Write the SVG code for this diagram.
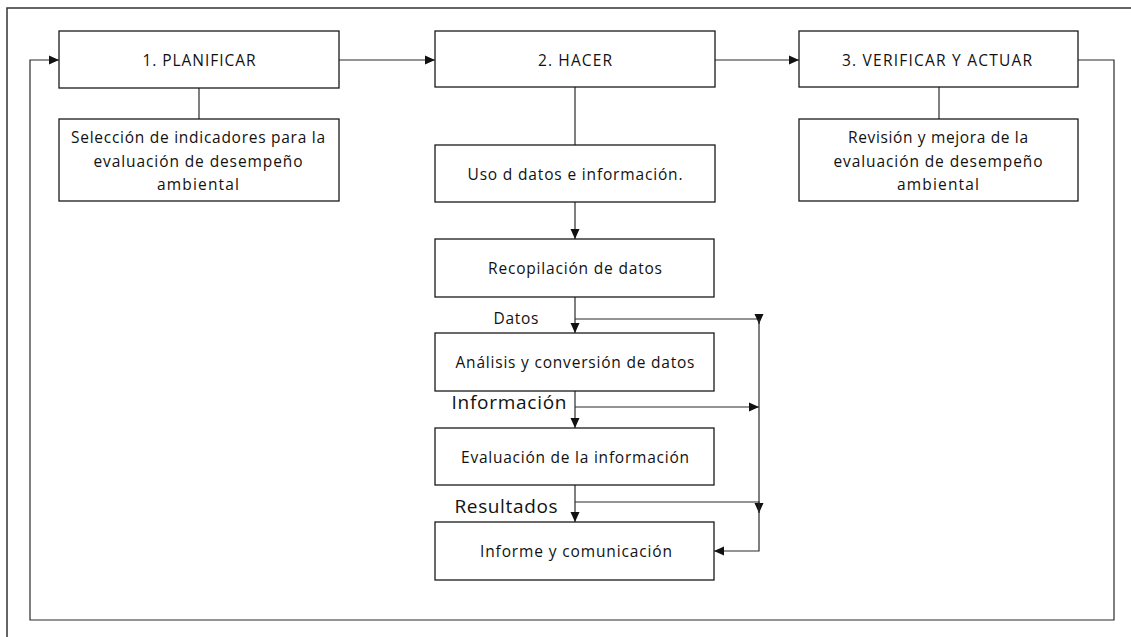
<svg xmlns="http://www.w3.org/2000/svg" width="1131" height="637" viewBox="0 0 1131 637">
  <style>
    .box { fill: #ffffff; stroke: #1a1a1a; stroke-width: 1.3; }
    .frame { fill: none; stroke: #333333; stroke-width: 1.5; }
    .link { fill: none; stroke: #2a2a2a; stroke-width: 1.2; }
    .arrow { fill: none; stroke: #2a2a2a; stroke-width: 1.2; marker-end: url(#head); }
    text { font-family: "Open Sans", "Liberation Sans", Arial, sans-serif; font-size: 15.5px; fill: #111111; text-anchor: middle; }
    .big { font-size: 19px; }
  </style>
  <defs>
    <marker id="head" markerUnits="userSpaceOnUse" markerWidth="10" markerHeight="10" viewBox="0 0 10 10" refX="10" refY="5" orient="auto">
      <path d="M0,0.5 L10,5 L0,9.5 Z" fill="#111111"/>
    </marker>
  </defs>

  <!-- page frame -->
  <path class="frame" d="M7,637 V8 H1131"/>

  <!-- connectors -->
  <g id="connectors">
    <path class="arrow" d="M339,60 H435"/>
    <path class="arrow" d="M715,60 H799"/>
    <path class="arrow" d="M1078,60 H1114 V620 H30 V60 H59"/>
    <path class="link" d="M199,88 V119"/>
    <path class="link" d="M939,87 V119"/>
    <path class="link" d="M575,87 V145"/>
    <path class="arrow" d="M575,202 V239"/>
    <path class="arrow" d="M575,297 V333"/>
    <path class="arrow" d="M575,391 V428"/>
    <path class="arrow" d="M575,485 V522"/>
    <path class="arrow" d="M575,319 H759 V324"/>
    <path class="arrow" d="M575,407 H759"/>
    <path class="arrow" d="M575,502 H759 V513"/>
    <path class="arrow" d="M759,319 V551 H714"/>
  </g>

  <g id="planificar">
    <rect class="box" x="59" y="31" width="280" height="57"/>
    <text x="199" y="66" textLength="113" lengthAdjust="spacing">1. PLANIFICAR</text>
  </g>
  <g id="seleccion">
    <rect class="box" x="59" y="119" width="280" height="82"/>
    <text x="198" y="143" textLength="254" lengthAdjust="spacing">Selección de indicadores para la</text>
    <text x="198" y="167" textLength="209" lengthAdjust="spacing">evaluación de desempeño</text>
    <text x="198" y="190" textLength="82" lengthAdjust="spacing">ambiental</text>
  </g>

  <g id="hacer">
    <rect class="box" x="435" y="31" width="280" height="56"/>
    <text x="575" y="66" textLength="74" lengthAdjust="spacing">2. HACER</text>
  </g>
  <g id="uso">
    <rect class="box" x="435" y="145" width="280" height="57"/>
    <text x="575" y="180" textLength="215" lengthAdjust="spacing">Uso d datos e información.</text>
  </g>
  <g id="recopilacion">
    <rect class="box" x="435" y="239" width="279" height="58"/>
    <text x="575" y="274" textLength="174" lengthAdjust="spacing">Recopilación de datos</text>
  </g>
  <g id="label-datos">
    <text x="516" y="324" textLength="45" lengthAdjust="spacing">Datos</text>
  </g>
  <g id="analisis">
    <rect class="box" x="435" y="333" width="279" height="58"/>
    <text x="575" y="368" textLength="239" lengthAdjust="spacing">Análisis y conversión de datos</text>
  </g>
  <g id="label-informacion">
    <text class="big" x="509" y="409" textLength="115" lengthAdjust="spacing">Información</text>
  </g>
  <g id="evaluacion">
    <rect class="box" x="435" y="428" width="279" height="57"/>
    <text x="575" y="463" textLength="228" lengthAdjust="spacing">Evaluación de la información</text>
  </g>
  <g id="label-resultados">
    <text class="big" x="506" y="513" textLength="103" lengthAdjust="spacing">Resultados</text>
  </g>
  <g id="informe">
    <rect class="box" x="435" y="522" width="279" height="58"/>
    <text x="576" y="557" textLength="192" lengthAdjust="spacing">Informe y comunicación</text>
  </g>

  <g id="verificar">
    <rect class="box" x="799" y="31" width="279" height="56"/>
    <text x="937" y="66" textLength="190" lengthAdjust="spacing">3. VERIFICAR Y ACTUAR</text>
  </g>
  <g id="revision">
    <rect class="box" x="799" y="119" width="279" height="82"/>
    <text x="938" y="143" textLength="180" lengthAdjust="spacing">Revisión y mejora de la</text>
    <text x="938" y="167" textLength="209" lengthAdjust="spacing">evaluación de desempeño</text>
    <text x="938" y="190" textLength="82" lengthAdjust="spacing">ambiental</text>
  </g>
</svg>
